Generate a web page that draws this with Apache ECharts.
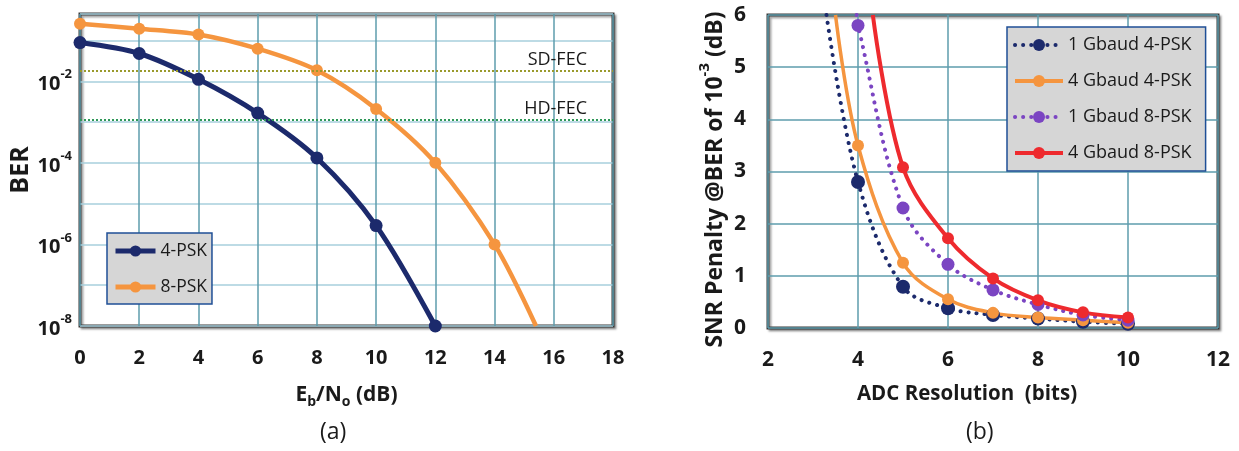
<!DOCTYPE html>
<html><head><meta charset="utf-8">
<script src="https://cdn.jsdelivr.net/npm/echarts@6/dist/echarts.min.js"></script>
<style>html,body{margin:0;padding:0;background:#fff}#c{width:1239px;height:451px}</style>
</head><body><div id="c"></div>
<script>
// ---------- Panel (a): BER vs Eb/No ----------
const ebnoA4 = [0, 2, 4, 6, 8, 10, 12];
const ber4psk = [8.9e-2, 4.8e-2, 1.12e-2, 1.66e-3, 1.32e-4, 2.9e-6, 1e-8];
const ebnoA8 = [0, 2, 4, 6, 8, 10, 12, 14, 15.4];
const ber8psk = [0.257, 0.195, 0.141, 0.063, 0.0186, 2.1e-3, 1.0e-4, 1.0e-6, 1e-8];
const ber8MarkerCount = 8; // last point is the curve end at the axis floor
const sdFec = 1.8e-2;
const hdFec = 1.12e-3;
const berLabelExps = [-8, -6, -4, -2];
const namesA = ['4-PSK', '8-PSK'];

// ---------- Panel (b): SNR penalty vs ADC resolution ----------
const adcBits = [4, 5, 6, 7, 8, 9, 10];
const pen1g4psk = [2.8, 0.79, 0.38, 0.25, 0.18, 0.12, 0.08];
const pen1g4pskTop = [3.3, 6];
const bits4g4psk = [4, 5, 6, 7, 8, 9, 10];
const pen4g4psk = [3.5, 1.25, 0.55, 0.29, 0.2, 0.15, 0.1];
const pen4g4pskTop = [3.5, 6];
const pen1g8psk = [5.8, 2.3, 1.22, 0.73, 0.45, 0.25, 0.15];
const pen1g8pskTop = [3.97, 6];
const bits4g8psk = [5, 6, 7, 8, 9, 10];
const pen4g8psk = [3.08, 1.72, 0.95, 0.53, 0.3, 0.2];
const pen4g8pskTop = [4.33, 6];
const namesB = ['1 Gbaud 4-PSK', '4 Gbaud 4-PSK', '1 Gbaud 8-PSK', '4 Gbaud 8-PSK'];

const FONT = 'Open Sans';
const TXT = '#1a1a1a';
const navy = '#1c2a6c', orange = '#f5953f', purple = '#7b45c2', red = '#ee2a2e';
const gridTeal = '#5e9cad';

function logPts(xs, ys, nMarked) {
  return xs.map((x, i) => {
    const v = [x, Math.log10(ys[i])];
    return (nMarked !== undefined && i >= nMarked) ? {value: v, symbol: 'none'} : v;
  });
}
function withTop(top, xs, ys) {
  return [{value: top, symbol: 'none'}].concat(xs.map((x, i) => [x, ys[i]]));
}

const chart = echarts.init(document.getElementById('c'), null, {renderer: 'canvas'});
const bold = (sz) => ({fontFamily: FONT, fontWeight: 'bold', fontSize: sz, color: TXT});

chart.setOption({
  animation: false,
  backgroundColor: '#fff',
  grid: [
    {left: 80, top: 14, width: 533, height: 312, show: true, backgroundColor: '#fff', outerBoundsMode: 'none', containLabel: false,
     borderColor: '#3a3a3a', borderWidth: 3, shadowColor: 'rgba(0,0,0,0.35)', shadowBlur: 2, shadowOffsetX: 2, shadowOffsetY: 2},
    {left: 768, top: 15, width: 450, height: 313, show: true, backgroundColor: '#fff', outerBoundsMode: 'none', containLabel: false,
     borderColor: '#3a3a3a', borderWidth: 3, shadowColor: 'rgba(0,0,0,0.35)', shadowBlur: 2, shadowOffsetX: 2, shadowOffsetY: 2}
  ],
  xAxis: [
    {gridIndex: 0, type: 'value', min: 0, max: 18, interval: 2,
     axisLine: {show: false}, axisTick: {show: false},
     axisLabel: Object.assign({margin: 22}, bold(20)),
     splitLine: {lineStyle: {color: gridTeal, width: 1.5}},
     name: '{a|E}{s|b}{a|/N}{s|o}{a| (dB)}', nameLocation: 'middle', nameGap: 55,
     nameTextStyle: {rich: {
       a: Object.assign(bold(21), {lineHeight: 28, verticalAlign: 'middle'}),
       s: Object.assign(bold(14), {lineHeight: 28, verticalAlign: 'bottom'})
     }}},
    {gridIndex: 1, type: 'value', min: 2, max: 12, interval: 2,
     axisLine: {show: false}, axisTick: {show: false},
     axisLabel: Object.assign({margin: 22}, bold(21)),
     splitLine: {lineStyle: {color: gridTeal, width: 1.5}},
     name: 'ADC Resolution  (bits)', nameLocation: 'middle', nameGap: 56,
     nameTextStyle: Object.assign(bold(20.5), {padding: [0, 52, 0, 0]})}
  ],
  yAxis: [
    {gridIndex: 0, type: 'value', min: -8, max: -0.35, interval: 1,
     axisLine: {show: false}, axisTick: {show: false},
     axisLabel: {margin: 8,
       formatter: function (v) {
         const r = Math.round(v);
         if (Math.abs(v - r) > 1e-6 || berLabelExps.indexOf(r) < 0) return '';
         return '{b|10}{s|' + r + '}';
       },
       rich: {
         b: Object.assign(bold(20), {lineHeight: 26, verticalAlign: 'bottom'}),
         s: Object.assign(bold(13), {lineHeight: 26, verticalAlign: 'top'})
       }},
     splitLine: {lineStyle: {color: '#a7cfdd', width: 1.5}},
     name: 'BER', nameLocation: 'middle', nameGap: 40,
     nameTextStyle: bold(25)},
    {gridIndex: 1, type: 'value', min: 0, max: 6, interval: 1,
     axisLine: {show: false}, axisTick: {show: false},
     axisLabel: Object.assign({margin: 22}, bold(21)),
     splitLine: {lineStyle: {color: gridTeal, width: 1.5}},
     name: '{a|SNR Penalty @BER of 10}{s|-3}{a| (dB)}', nameLocation: 'middle', nameGap: 41,
     nameTextStyle: {padding: [0, 16, 0, 0], rich: {
       a: Object.assign(bold(23), {lineHeight: 30, verticalAlign: 'bottom'}),
       s: Object.assign(bold(15), {lineHeight: 30, verticalAlign: 'top'})
     }}}
  ],
  legend: [
    {data: namesA, left: 107, top: 233, orient: 'vertical', itemGap: 18,
     itemWidth: 40, itemHeight: 14, padding: [9, 5, 8, 6],
     lineStyle: {width: 5},
     backgroundColor: '#d6d6d6', borderColor: '#1f4f96', borderWidth: 1.5,
     textStyle: {fontFamily: FONT, fontSize: 17.5, color: TXT}},
    {data: namesB, left: 1007, top: 27, orient: 'vertical', itemGap: 18,
     itemWidth: 48, itemHeight: 15, padding: [9, 14, 9, 6],
     lineStyle: {width: 4},
     backgroundColor: '#d6d6d6', borderColor: '#1f4f96', borderWidth: 1.5,
     textStyle: {fontFamily: FONT, fontSize: 18, color: TXT}}
  ],
  graphic: [
    {type: 'text', left: 320, top: 421, style: {text: '(a)', font: '23px "Open Sans"', fill: TXT}},
    {type: 'text', left: 966, top: 421, style: {text: '(b)', font: '23px "Open Sans"', fill: TXT}}
  ],
  series: [
    {name: namesA[0], type: 'line', xAxisIndex: 0, yAxisIndex: 0, clip: false,
     data: logPts(ebnoA4, ber4psk), smooth: 0.3,
     symbol: 'circle', symbolSize: 13, color: navy,
     lineStyle: {width: 5, color: navy}, itemStyle: {color: navy},
     markLine: {silent: true, symbol: 'none',
       label: {show: true, position: 'insideEndTop', formatter: '{b}', distance: 2,
               fontFamily: FONT, fontSize: 18, color: TXT, padding: [0, 24, 0, 0]},
       data: [
         {name: 'SD-FEC', yAxis: Math.log10(sdFec), lineStyle: {color: '#9a9a2c', type: [2, 2], width: 2}},
         {name: 'HD-FEC', yAxis: Math.log10(hdFec), lineStyle: {color: '#2f9858', type: [2, 2], width: 2}}
       ]}},
    {name: namesA[1], type: 'line', xAxisIndex: 0, yAxisIndex: 0, clip: false,
     data: logPts(ebnoA8, ber8psk, ber8MarkerCount), smooth: 0.3,
     symbol: 'circle', symbolSize: 12, color: orange,
     lineStyle: {width: 4.5, color: orange}, itemStyle: {color: orange}},

    {name: namesB[0], type: 'line', xAxisIndex: 1, yAxisIndex: 1,
     data: withTop(pen1g4pskTop, adcBits, pen1g4psk), smooth: 0.35,
     symbol: 'circle', symbolSize: 14, color: navy,
     lineStyle: {width: 4, color: navy, type: [0.1, 8], cap: 'round'}, itemStyle: {color: navy}},
    {name: namesB[1], type: 'line', xAxisIndex: 1, yAxisIndex: 1,
     data: withTop(pen4g4pskTop, bits4g4psk, pen4g4psk), smooth: 0.35,
     symbol: 'circle', symbolSize: 12, color: orange,
     lineStyle: {width: 3.5, color: orange}, itemStyle: {color: orange}},
    {name: namesB[2], type: 'line', xAxisIndex: 1, yAxisIndex: 1,
     data: withTop(pen1g8pskTop, adcBits, pen1g8psk), smooth: 0.35,
     symbol: 'circle', symbolSize: 13, color: purple,
     lineStyle: {width: 4, color: purple, type: [0.1, 8], cap: 'round'}, itemStyle: {color: purple}},
    {name: namesB[3], type: 'line', xAxisIndex: 1, yAxisIndex: 1,
     data: withTop(pen4g8pskTop, bits4g8psk, pen4g8psk), smooth: 0.35,
     symbol: 'circle', symbolSize: 12, color: red,
     lineStyle: {width: 4, color: red}, itemStyle: {color: red}}
  ]
});
</script></body></html>
